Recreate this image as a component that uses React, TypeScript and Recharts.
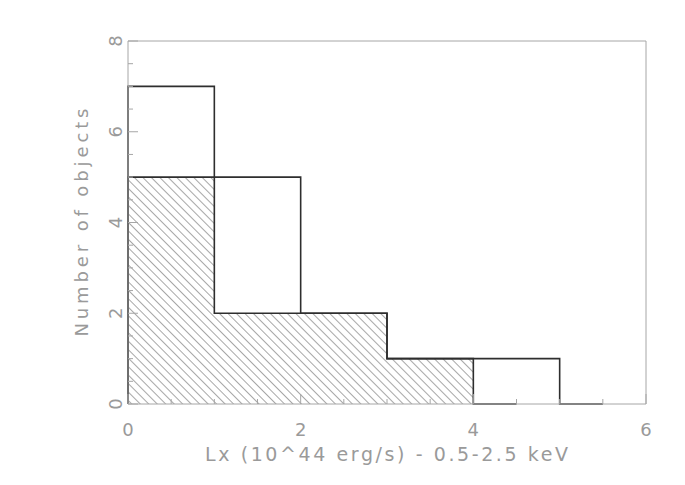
import React from "react";
import { ComposedChart, Area, Line, XAxis, YAxis, Label } from "recharts";

const AXIS = "#a6a6a6";
const TEXT = "#9a9a9a";
const INK = "#2e2e2e";
const HATCH = "#777777";
const FONT = "'DejaVu Sans', sans-serif";

// whole sample (outline histogram), step after each edge
const allEdges = [0, 0, 1, 2, 3, 4, 5, 5.5];
const allCounts = [0, 7, 5, 2, 1, 1, 0, 0];

// sub-sample (hatched histogram)
const subEdges = [0, 0, 1, 2, 3, 4, 4.5];
const subCounts = [0, 5, 2, 2, 1, 0, 0];

const xTicks = [0, 0.5, 1, 1.5, 2, 2.5, 3, 3.5, 4, 4.5, 5, 5.5, 6];
const yTicks = [0, 0.5, 1, 1.5, 2, 2.5, 3, 3.5, 4, 4.5, 5, 5.5, 6, 6.5, 7, 7.5, 8];
const xLabels = [0, 2, 4, 6];
const yLabels = [0, 2, 4, 6, 8];

const allData = allEdges.map((x, i) => ({ x, n: allCounts[i] }));
const subData = subEdges.map((x, i) => ({ x, n: subCounts[i] }));

const BottomTick = (props: any) => {
  const { x, y, payload } = props;
  const major = xLabels.includes(payload.value);
  return (
    <g>
      <line x1={x} x2={x} y1={y} y2={y - (major ? 10 : 5)} stroke={AXIS} />
      {major && (
        <text x={x} y={y + 32} textAnchor="middle" fill={TEXT} fontSize={18} fontFamily={FONT}>
          {payload.value}
        </text>
      )}
    </g>
  );
};

const TopTick = (props: any) => {
  const { x, y, payload } = props;
  const major = xLabels.includes(payload.value);
  return <line x1={x} x2={x} y1={y} y2={y + (major ? 10 : 5)} stroke={AXIS} />;
};

const LeftTick = (props: any) => {
  const { x, y, payload } = props;
  const major = yLabels.includes(payload.value);
  const bx = x - 6;
  return (
    <g>
      <line x1={x} x2={x + (major ? 10 : 5)} y1={y} y2={y} stroke={AXIS} />
      {major && (
        <text x={bx} y={y} textAnchor="middle" fill={TEXT} fontSize={18} fontFamily={FONT} transform={`rotate(-90 ${bx} ${y})`}>
          {payload.value}
        </text>
      )}
    </g>
  );
};

const RightTick = (props: any) => {
  const { x, y, payload } = props;
  const major = yLabels.includes(payload.value);
  return <line x1={x} x2={x - (major ? 10 : 5)} y1={y} y2={y} stroke={AXIS} />;
};

export default function App() {
  return (
    <div style={{ position: "absolute", left: 0, top: 0, background: "#fff" }}>
      <ComposedChart width={685} height={485} margin={{ top: 0, right: 0, bottom: 0, left: 0 }}>
        <defs>
          <pattern id="hatch" patternUnits="userSpaceOnUse" width={8} height={6} patternTransform="rotate(45)">
            <line x1={0} y1={0} x2={8} y2={0} stroke={HATCH} strokeWidth={1.3} />
          </pattern>
        </defs>
        <XAxis
          xAxisId="b"
          type="number"
          dataKey="x"
          domain={[0, 6]}
          ticks={xTicks}
          interval={0}
          height={81}
          tickSize={0}
          tickMargin={0}
          tickLine={false}
          axisLine={{ stroke: AXIS }}
          tick={BottomTick}
        >
          <Label
            content={() => (
              <text x={386.5} y={461} textAnchor="middle" fill={TEXT} fontSize={19} fontFamily={FONT} textLength={363} lengthAdjust="spacing">
                Lx (10^44 erg/s)  - 0.5-2.5 keV
              </text>
            )}
          />
        </XAxis>
        <XAxis
          xAxisId="t"
          type="number"
          dataKey="x"
          orientation="top"
          domain={[0, 6]}
          ticks={xTicks}
          interval={0}
          height={41}
          tickSize={0}
          tickMargin={0}
          tickLine={false}
          axisLine={{ stroke: AXIS }}
          tick={TopTick}
        />
        <YAxis
          yAxisId="l"
          type="number"
          domain={[0, 8]}
          ticks={yTicks}
          interval={0}
          width={128}
          tickSize={0}
          tickMargin={0}
          tickLine={false}
          axisLine={{ stroke: AXIS }}
          tick={LeftTick}
        >
          <Label
            content={() => (
              <text x={88} y={222.5} textAnchor="middle" fill={TEXT} fontSize={18} fontFamily={FONT} textLength={228} lengthAdjust="spacing" transform="rotate(-90 88 222.5)">
                Number of objects
              </text>
            )}
          />
        </YAxis>
        <YAxis
          yAxisId="r"
          orientation="right"
          type="number"
          domain={[0, 8]}
          ticks={yTicks}
          interval={0}
          width={39}
          tickSize={0}
          tickMargin={0}
          tickLine={false}
          axisLine={{ stroke: AXIS }}
          tick={RightTick}
        />
        <Area
          xAxisId="b"
          yAxisId="l"
          data={subData}
          dataKey="n"
          type="stepAfter"
          fill="url(#hatch)"
          fillOpacity={1}
          stroke={INK}
          strokeWidth={1.6}
          dot={false}
          activeDot={false}
          isAnimationActive={false}
        />
        <Line
          xAxisId="b"
          yAxisId="l"
          data={allData}
          dataKey="n"
          type="stepAfter"
          stroke={INK}
          strokeWidth={1.6}
          dot={false}
          activeDot={false}
          isAnimationActive={false}
        />
      </ComposedChart>
    </div>
  );
}
